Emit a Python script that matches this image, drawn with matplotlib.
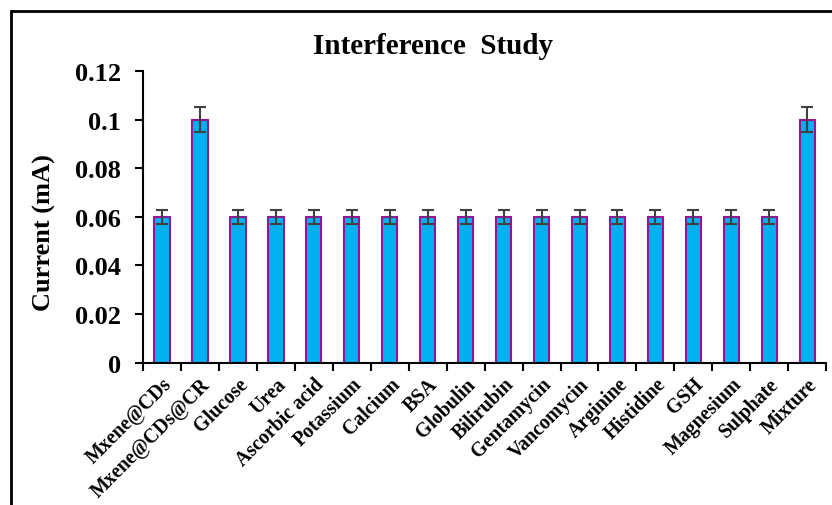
import numpy as np
import matplotlib
matplotlib.use("Agg")
from matplotlib import pyplot as plt
from matplotlib.patches import Rectangle

categories = ["Mxene@CDs", "Mxene@CDs@CR", "Glucose", "Urea", "Ascorbic acid",
              "Potassium", "Calcium", "BSA", "Globulin", "Bilirubin", "Gentamycin",
              "Vancomycin", "Arginine", "Histidine", "GSH", "Magnesium", "Sulphate",
              "Mixture"]
courant = [0.06, 0.10, 0.06, 0.06, 0.06, 0.06, 0.06, 0.06, 0.06, 0.06, 0.06,
           0.06, 0.06, 0.06, 0.06, 0.06, 0.06, 0.10]
erreurs = [0.003, 0.005, 0.003, 0.003, 0.003, 0.003, 0.003, 0.003, 0.003, 0.003,
           0.003, 0.003, 0.003, 0.003, 0.003, 0.003, 0.003, 0.005]

plt.rcParams['font.family'] = ['Liberation Serif', 'DejaVu Serif']
plt.rcParams['font.weight'] = 'bold'

fig = plt.figure(figsize=(8.32, 5.06), dpi=100)
ax = fig.add_axes([0.172, 0.281, 0.821, 0.577])

# cadre autour de la figure (coupé à droite et en bas)
fig.patches.append(Rectangle((11/832, -0.05), 1.0, 1 - 12/506 + 0.05,
                             transform=fig.transFigure, fill=False,
                             edgecolor='black', linewidth=2))

x = np.arange(len(categories))
ax.bar(x, courant, width=0.4, color='#00B0F0', edgecolor='#8E1A8E', linewidth=1.5,
       yerr=erreurs, error_kw=dict(ecolor='#404040', elinewidth=1.5, capsize=4, capthick=1.5))

ax.set_xlim(-0.5, len(categories) - 0.5)
ax.set_ylim(0, 0.12)
ax.set_yticks([0, 0.02, 0.04, 0.06, 0.08, 0.1, 0.12])
ax.set_yticklabels(["0", "0.02", "0.04", "0.06", "0.08", "0.1", "0.12"], fontsize=19, fontweight='bold')

ax.set_xticks(x)
ax.set_xticklabels(categories, rotation=45, ha='right', rotation_mode='anchor',
                   fontsize=14.3, fontweight='bold')
ax.set_xticks(np.arange(len(categories) + 1) - 0.5, minor=True)
ax.tick_params(axis='x', which='major', length=0, pad=8)
ax.tick_params(axis='x', which='minor', length=6, width=1.5, direction='out')
ax.tick_params(axis='y', length=6, width=1.5, direction='out', pad=10)

for s in ['top', 'right']:
    ax.spines[s].set_visible(False)
for s in ['left', 'bottom']:
    ax.spines[s].set_linewidth(1.5)

ax.set_ylabel("Current (mA)", fontsize=19, fontweight='bold')
ax.yaxis.set_label_coords(-0.127, 0.449)
fig.text(0.52, 0.908, "Interference  Study", ha='center', va='center',
         fontsize=21, fontweight='bold')

fig.savefig("out.png", dpi=100)
